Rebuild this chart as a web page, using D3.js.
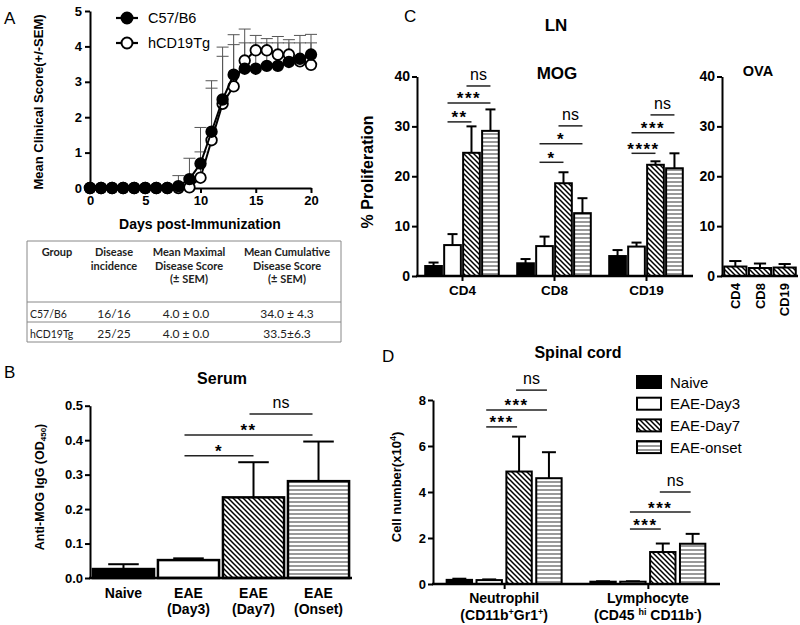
<!DOCTYPE html>
<html><head><meta charset="utf-8">
<script src="https://cdn.jsdelivr.net/npm/d3@7"></script>
<style>
body{margin:0;background:#fff;}
svg{display:block;font-family:"Liberation Sans",Arial,sans-serif;}
</style></head><body>
<svg id="chart" width="800" height="625"></svg>
<script>
// ---------- Panel A data ----------
const days = [0,1,2,3,4,5,6,7,8,9,10,11,12,13,14,15,16,17,18,19,20];
const c57Mean = [0,0,0,0,0,0,0,0,0.05,0.25,0.69,1.59,2.50,3.20,3.37,3.37,3.45,3.45,3.56,3.65,3.77];
const c57Sem  = [0,0,0,0,0,0,0,0,0.30,0.59,1.02,1.44,1.48,1.13,0.73,0.73,0.65,0.65,0.54,0.45,0.33];
const tgMean  = [0,0,0,0,0,0,0,0,0,0.02,0.29,1.35,2.38,2.87,3.60,3.89,3.89,3.77,3.77,3.58,3.48];
const tgSem   = [0,0,0,0,0,0,0,0,0,0,0.73,1.47,1.34,1.18,0.89,0.42,0.33,0.51,0.42,0.73,0.86];
const yTicksA = [0,1,2,3,4,5];
const xTicksA = [0,5,10,15,20];
const seriesNamesA = ["C57/B6","hCD19Tg"];

// ---------- Table ----------
const tableHeader = [["Group"],["Disease","incidence"],["Mean Maximal","Disease Score","(± SEM)"],["Mean Cumulative","Disease Score","(± SEM)"]];
const tableRows = [["C57/B6","16/16","4.0 ± 0.0","34.0 ± 4.3"],["hCD19Tg","25/25","4.0 ± 0.0","33.5±6.3"]];

// ---------- Panel B data ----------
const serumCats = [["Naive"],["EAE","(Day3)"],["EAE","(Day7)"],["EAE","(Onset)"]];
const serumMean = [0.026,0.052,0.234,0.281];
const serumSem  = [0.014,0.005,0.102,0.115];
const yTicksB = [0,0.1,0.2,0.3,0.4,0.5];
const sigB = [[1,2,0.355,"*"],[1,3,0.415,"**"],[2,3,0.476,"ns"]];

// ---------- Panel C data ----------
const groups = ["Naive","EAE-Day3","EAE-Day7","EAE-onset"];
const lnCats = ["CD4","CD8","CD19"];
const mogMean = [[2.0,6.2,24.7,29.1],[2.55,6.0,18.6,12.6],[4.0,5.9,22.3,21.6]];
const mogSem  = [[0.7,2.2,5.3,4.3],[0.85,1.9,2.2,3.0],[1.2,0.8,0.7,3.0]];
const sigC = [[0,1,2,30.9,"**"],[0,1,3,34.7,"***"],[0,2,3,38.1,"ns"],
              [1,1,2,22.8,"*"],[1,1,3,26.5,"*"],[1,2,3,30.1,"ns"],
              [2,1,2,24.6,"****"],[2,1,3,28.7,"***"],[2,2,3,32.3,"ns"]];
const ovaCats = ["CD4","CD8","CD19"];
const ovaMean = [1.9,1.6,1.7];
const ovaSem  = [1.1,0.9,0.7];
const yTicksC = [0,10,20,30,40];

// ---------- Panel D data ----------
const scCats = ["Neutrophil","Lymphocyte"];
const scMean = [[0.18,0.17,4.89,4.60],[0.10,0.10,1.39,1.75]];
const scSem  = [[0.05,0.03,1.52,1.13],[0.02,0.02,0.37,0.43]];
const yTicksD = [0,2,4,6,8];
const sigD = [[0,1,2,6.83,"***"],[0,1,3,7.57,"***"],[0,2,3,8.43,"ns"],
              [1,1,2,2.39,"***"],[1,1,3,3.13,"***"],[1,2,3,4.0,"ns"]];

// ================= drawing =================
const FONT = '"Liberation Sans",Arial,sans-serif';
const TFONT = "Lato, 'Open Sans', sans-serif";
const svg = d3.select("#chart");
svg.append("rect").attr("width",800).attr("height",625).attr("fill","#fff");
const defs = svg.append("defs");
const ph = defs.append("pattern").attr("id","hatch").attr("patternUnits","userSpaceOnUse").attr("width",5).attr("height",5);
ph.append("rect").attr("width",5).attr("height",5).attr("fill","#fff");
ph.append("path").attr("d","M-1,-1L6,6M-1,4L1,6M4,-1L6,1").attr("stroke","#000").attr("stroke-width",1.5);
const ps = defs.append("pattern").attr("id","stripe").attr("patternUnits","userSpaceOnUse").attr("width",4).attr("height",4);
ps.append("rect").attr("width",4).attr("height",4).attr("fill","#fff");
ps.append("line").attr("x1",0).attr("x2",4).attr("y1",2).attr("y2",2).attr("stroke","#555").attr("stroke-width",1.2);
const fills = ["#000","#fff","url(#hatch)","url(#stripe)"];

function styleAxis(g, fs){
  g.attr("font-family",FONT).attr("font-size",fs).attr("font-weight","bold");
  g.select(".domain").attr("stroke","#000").attr("stroke-width",2);
  g.selectAll(".tick line").attr("stroke","#000").attr("stroke-width",2);
  g.selectAll(".tick text").attr("fill","#000");
}
function txt(x,y,s,fs,opt={}){
  return svg.append("text").attr("x",x).attr("y",y).text(s)
    .attr("font-size",fs).attr("font-weight",opt.bold?"bold":"normal")
    .attr("text-anchor",opt.anchor||"middle").attr("fill",opt.fill||"#000");
}
function sig(x1,x2,y,label){
  svg.append("line").attr("x1",x1).attr("x2",x2).attr("y1",y).attr("y2",y).attr("stroke","#222").attr("stroke-width",1.5);
  if(label==="ns") txt((x1+x2)/2, y-6, "ns", 16);
  else txt((x1+x2)/2, y+1.5, label, 17, {bold:true}).attr("letter-spacing",1.5);
}
function errBar(cx,y0,y1,capW,sw){
  svg.append("line").attr("x1",cx).attr("x2",cx).attr("y1",y0).attr("y2",y1).attr("stroke","#000").attr("stroke-width",sw);
  svg.append("line").attr("x1",cx-capW/2).attr("x2",cx+capW/2).attr("y1",y1).attr("y2",y1).attr("stroke","#000").attr("stroke-width",sw);
}
function rotLabel(x,y,fs){
  return svg.append("text").attr("transform",`translate(${x},${y}) rotate(-90)`)
    .attr("text-anchor","middle").attr("font-size",fs).attr("font-weight","bold");
}

// ---------- Panel A ----------
txt(4,24,"A",17,{anchor:"start"});
const xA = d3.scaleLinear().domain([0,20]).range([90,311]);
const yA = d3.scaleLinear().domain([0,5]).range([188,11]);
svg.append("g").attr("transform","translate(90,0)")
  .call(d3.axisLeft(yA).tickValues(yTicksA).tickFormat(d3.format("d")).tickSize(5).tickSizeOuter(0).tickPadding(3)).call(styleAxis,13);
svg.append("g").attr("transform","translate(0,188)")
  .call(d3.axisBottom(xA).tickValues(xTicksA).tickFormat(d3.format("d")).tickSize(5).tickSizeOuter(0).tickPadding(3)).call(styleAxis,13);
rotLabel(43,102,13).text("Mean Clinical Score(+/-SEM)");
txt(200,229,"Days post-Immunization",14,{bold:true});

const seriesA = [
  {name:seriesNamesA[1], mean:tgMean, sem:tgSem, fill:"#fff"},
  {name:seriesNamesA[0], mean:c57Mean, sem:c57Sem, fill:"#000"}
];
seriesA.forEach(s=>{
  days.forEach((d,i)=>{
    if(s.sem[i]>0){
      const cx = xA(d), y0 = yA(s.mean[i]), y1 = yA(s.mean[i]+s.sem[i]);
      svg.append("line").attr("x1",cx).attr("x2",cx).attr("y1",y0).attr("y2",y1).attr("stroke","#555").attr("stroke-width",1);
      svg.append("line").attr("x1",cx-6).attr("x2",cx+6).attr("y1",y1).attr("y2",y1).attr("stroke","#555").attr("stroke-width",1);
    }
  });
});
const lineA = d3.line().x((d,i)=>xA(days[i])).y(d=>yA(d));
seriesA.forEach(s=>{
  svg.append("path").attr("d",lineA(s.mean)).attr("fill","none").attr("stroke","#000").attr("stroke-width",2);
  svg.append("g").selectAll("circle").data(s.mean).join("circle")
    .attr("cx",(d,i)=>xA(days[i])).attr("cy",d=>yA(d)).attr("r",5.3)
    .attr("fill",s.fill).attr("stroke","#000").attr("stroke-width",1.8);
});
// legend A
[[seriesNamesA[0],"#000",18],[seriesNamesA[1],"#fff",43]].forEach(([n,f,y])=>{
  svg.append("line").attr("x1",116).attr("x2",138).attr("y1",y).attr("y2",y).attr("stroke","#000").attr("stroke-width",2.2);
  svg.append("circle").attr("cx",127).attr("cy",y).attr("r",5.5).attr("fill",f).attr("stroke","#000").attr("stroke-width",2);
  txt(148,y+5,n,14.5,{anchor:"start"});
});

// ---------- Table ----------
const tg = svg.append("g").attr("stroke","#888").attr("stroke-width",1);
[241,302,322,342].forEach(y=>tg.append("line").attr("x1",27).attr("x2",341).attr("y1",y).attr("y2",y));
[27,341].forEach(x=>tg.append("line").attr("x1",x).attr("x2",x).attr("y1",241).attr("y2",342));
const colX = [57,114,189,287];
tableHeader.forEach((lines,c)=>{
  lines.forEach((l,k)=>{
    txt(colX[c],256+k*13.5,l,11,{bold:true,fill:"#222"}).attr("font-family",TFONT);
  });
});
tableRows.forEach((row,r)=>{
  row.forEach((v,c)=>{
    const y = 317.5 + r*20.5;
    if(c===0) txt(30,y,v,10.5,{anchor:"start",fill:"#222"}).attr("font-family",TFONT);
    else txt(colX[c]+(c===2?-3:0),y,v,12,{fill:"#222"}).attr("font-family",TFONT);
  });
});

// ---------- Panel B ----------
txt(4,378,"B",17,{anchor:"start"});
txt(222,384,"Serum",16,{bold:true});
const xB = d3.scaleBand().domain(d3.range(serumCats.length)).range([90,352]).paddingInner(0.06).paddingOuter(0.045);
const yB = d3.scaleLinear().domain([0,0.5]).range([578,405.7]);
serumMean.forEach((v,i)=>{
  const x = xB(i), bw = xB.bandwidth();
  errBar(x+bw/2, yB(v), yB(v+serumSem[i]), bw*0.5, 2);
  svg.append("rect").attr("x",x).attr("y",yB(v)).attr("width",bw).attr("height",yB(0)-yB(v))
    .attr("fill",fills[i]).attr("stroke","#000").attr("stroke-width",2.5);
});
svg.append("g").attr("transform","translate(90,0)")
  .call(d3.axisLeft(yB).tickValues(yTicksB).tickFormat(d3.format(".1f")).tickSize(5).tickSizeOuter(0).tickPadding(2)).call(styleAxis,13);
svg.append("line").attr("x1",89).attr("x2",352).attr("y1",578).attr("y2",578).attr("stroke","#000").attr("stroke-width",2.5);
serumCats.forEach((lines,i)=>{
  lines.forEach((l,k)=>txt(xB(i)+xB.bandwidth()/2, 598+k*16, l, 14, {bold:true}));
});
const lb = rotLabel(44,487,12.5);
lb.append("tspan").text("Anti-MOG IgG (OD");
lb.append("tspan").text("450").attr("font-size",8).attr("dy",2);
lb.append("tspan").text(")").attr("dy",-2);
sigB.forEach(([a,b,v,l])=>sig(xB(a)+xB.bandwidth()/2-4, xB(b)+xB.bandwidth()/2-(b===3?6:0), yB(v), l));

// ---------- Panel C ----------
txt(404,22,"C",17,{anchor:"start"});
txt(556,31,"LN",17,{bold:true});
txt(557,79,"MOG",17,{bold:true});
txt(758,76,"OVA",14.5,{bold:true});
const yC = d3.scaleLinear().domain([0,40]).range([276,76.5]);
const x0C = d3.scaleBand().domain(lnCats).range([416,692]).paddingInner(0.2).paddingOuter(0.1);
const x1C = d3.scaleBand().domain(groups).range([0,x0C.bandwidth()]).paddingInner(0.12);
lnCats.forEach((c,ci)=>{
  groups.forEach((g,gi)=>{
    const x = x0C(c)+x1C(g), bw = x1C.bandwidth(), v = mogMean[ci][gi];
    errBar(x+bw/2, yC(v), yC(v+mogSem[ci][gi]), bw*0.6, 2);
    svg.append("rect").attr("x",x).attr("y",yC(v)).attr("width",bw).attr("height",yC(0)-yC(v))
      .attr("fill",fills[gi]).attr("stroke","#000").attr("stroke-width",2);
  });
});
svg.append("g").attr("transform","translate(417,0)")
  .call(d3.axisLeft(yC).tickValues(yTicksC).tickSize(5).tickSizeOuter(0).tickPadding(2)).call(styleAxis,14);
const xCaxis = d3.axisBottom(d3.scalePoint().domain(lnCats).range([x0C(lnCats[0])+x0C.bandwidth()/2, x0C(lnCats[2])+x0C.bandwidth()/2])).tickSize(5).tickSizeOuter(0).tickPadding(4);
svg.append("g").attr("transform","translate(0,276)").call(xCaxis).call(styleAxis,13.5).select(".domain").remove();
svg.append("line").attr("x1",416).attr("x2",693).attr("y1",276).attr("y2",276).attr("stroke","#000").attr("stroke-width",2.5);
rotLabel(373,172,16).text("% Proliferation");
sigC.forEach(([ci,a,b,v,l])=>{
  const cx = i=>x0C(lnCats[ci])+x1C(groups[i])+x1C.bandwidth()/2;
  sig(cx(a)-5, cx(b), yC(v), l);
});
// OVA
const xO = d3.scaleBand().domain(ovaCats).range([723,797]).paddingInner(0.1).paddingOuter(0.05);
ovaCats.forEach((c,i)=>{
  const x = xO(c), bw = xO.bandwidth(), v = ovaMean[i];
  errBar(x+bw/2, yC(v), yC(v+ovaSem[i]), bw*0.55, 2);
  svg.append("rect").attr("x",x).attr("y",yC(v)).attr("width",bw).attr("height",yC(0)-yC(v))
    .attr("fill",fills[2]).attr("stroke","#000").attr("stroke-width",2);
  svg.append("text").attr("transform",`translate(${x+bw/2},283) rotate(-90)`).attr("dy","0.35em")
    .attr("text-anchor","end").attr("font-size",13).attr("font-weight","bold").text(c);
});
svg.append("g").attr("transform","translate(722,0)")
  .call(d3.axisLeft(yC).tickValues(yTicksC).tickSize(5).tickSizeOuter(0).tickPadding(2)).call(styleAxis,14);
svg.append("line").attr("x1",721).attr("x2",798).attr("y1",276).attr("y2",276).attr("stroke","#000").attr("stroke-width",2.5);

// ---------- Panel D ----------
txt(382,362,"D",17,{anchor:"start"});
txt(578,358,"Spinal cord",16,{bold:true});
const yD = d3.scaleLinear().domain([0,8]).range([584,400]);
const x0D = d3.scaleBand().domain(scCats).range([433,719]).paddingInner(0.2).paddingOuter(0.095);
const x1D = d3.scaleBand().domain(groups).range([0,x0D.bandwidth()]).paddingInner(0.15);
scCats.forEach((c,ci)=>{
  groups.forEach((g,gi)=>{
    const x = x0D(c)+x1D(g), bw = x1D.bandwidth(), v = scMean[ci][gi];
    errBar(x+bw/2, yD(v), yD(v+scSem[ci][gi]), bw*0.55, 2);
    svg.append("rect").attr("x",x).attr("y",yD(v)).attr("width",bw).attr("height",yD(0)-yD(v))
      .attr("fill",fills[gi]).attr("stroke","#000").attr("stroke-width",2);
  });
});
svg.append("g").attr("transform","translate(433,0)")
  .call(d3.axisLeft(yD).tickValues(yTicksD).tickSize(5).tickSizeOuter(0).tickPadding(2)).call(styleAxis,13);
const xDaxis = d3.axisBottom(d3.scalePoint().domain(scCats).range([x0D(scCats[0])+x0D.bandwidth()/2, x0D(scCats[1])+x0D.bandwidth()/2])).tickSize(5).tickSizeOuter(0).tickFormat("");
svg.append("g").attr("transform","translate(0,584)").call(xDaxis).call(styleAxis,13).select(".domain").remove();
svg.append("line").attr("x1",432).attr("x2",720).attr("y1",584).attr("y2",584).attr("stroke","#000").attr("stroke-width",2.5);
const cxD = c=>x0D(c)+x0D.bandwidth()/2;
txt(cxD(scCats[0]),603,"Neutrophil",14,{bold:true});
txt(cxD(scCats[1]),603,"Lymphocyte",14,{bold:true});
const n2 = txt(cxD(scCats[0]),620,"",14,{bold:true});
n2.append("tspan").text("(CD11b");
n2.append("tspan").text("+").attr("font-size",9).attr("dy",-5);
n2.append("tspan").text("Gr1").attr("dy",5);
n2.append("tspan").text("+").attr("font-size",9).attr("dy",-5);
n2.append("tspan").text(")").attr("dy",5);
const l2 = txt(cxD(scCats[1]),620,"",14,{bold:true});
l2.append("tspan").text("(CD45 ");
l2.append("tspan").text("hi").attr("font-size",9).attr("dy",-5);
l2.append("tspan").text(" CD11b").attr("dy",5);
l2.append("tspan").text("-").attr("font-size",9).attr("dy",-5);
l2.append("tspan").text(")").attr("dy",5);
const ld = rotLabel(401,487,13);
ld.append("tspan").text("Cell number(x10");
ld.append("tspan").text("4").attr("font-size",9).attr("dy",-5);
ld.append("tspan").text(")").attr("dy",5);
sigD.forEach(([ci,a,b,v,l])=>{
  const cx = i=>x0D(scCats[ci])+x1D(groups[i])+x1D.bandwidth()/2;
  sig(cx(a)-3, cx(b)-2, yD(v), l);
});
// legend D
groups.forEach((g,i)=>{
  const y = 382 + i*21.7;
  svg.append("rect").attr("x",637).attr("y",y-6).attr("width",24).attr("height",12)
    .attr("fill",fills[i]).attr("stroke","#000").attr("stroke-width",2);
  txt(670,y+5.5,g,15,{anchor:"start"});
});
</script>
</body></html>
